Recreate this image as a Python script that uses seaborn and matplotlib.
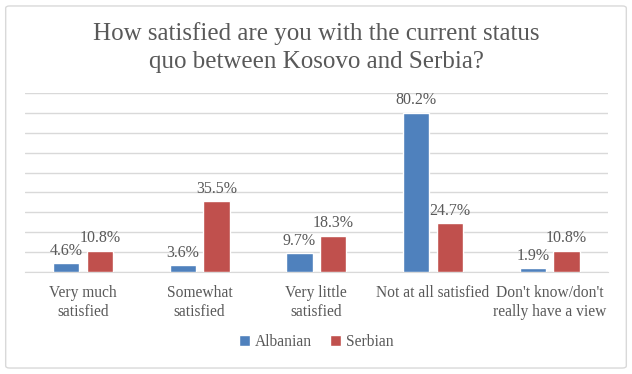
import pandas as pd
import numpy as np
import matplotlib.pyplot as plt
import seaborn as sns
from matplotlib.patches import FancyBboxPatch

# Data
categories = ['Very much\nsatisfied', 'Somewhat\nsatisfied', 'Very little\nsatisfied',
              'Not at all satisfied', "Don't know/don't\nreally have a view"]
albanian = [4.6, 3.6, 9.7, 80.2, 1.9]
serbian = [10.8, 35.5, 18.3, 24.7, 10.8]
groups = ['Albanian', 'Serbian']

df = pd.DataFrame({
    'category': categories * 2,
    'group': [groups[0]] * len(categories) + [groups[1]] * len(categories),
    'value': albanian + serbian,
})

sns.set_style('white')
plt.rcParams['font.family'] = ['Liberation Serif', 'DejaVu Serif']
text_color = '#595959'

fig = plt.figure(figsize=(6.32, 3.74), dpi=100)
ax = fig.add_axes([0.039, 0.2727, 0.923, 0.4786])

palette = {'Albanian': '#4F81BD', 'Serbian': '#C0504D'}
sns.barplot(data=df, x='category', y='value', hue='group', palette=palette,
            saturation=1, width=0.578, gap=0.22, ax=ax, legend=True, zorder=3)

for container in ax.containers:
    ax.bar_label(container, fmt='%.1f%%', padding=3, fontsize=11.5, color=text_color)

ax.set_ylim(0, 90)
ax.set_yticks(np.arange(0, 91, 10))
ax.yaxis.grid(True, color='#D9D9D9', linewidth=1)
ax.set_axisbelow(True)
ax.tick_params(axis='y', left=False, labelleft=False)
ax.tick_params(axis='x', bottom=False, labelsize=11.2, labelcolor=text_color, pad=6)
ax.set_xlabel('')
ax.set_ylabel('')
for side in ['top', 'right', 'left']:
    ax.spines[side].set_visible(False)
ax.spines['bottom'].set_color('#D9D9D9')

leg = ax.legend(loc='center', bbox_to_anchor=(0.5, -0.39), ncol=2, frameon=False,
                fontsize=11.2, handlelength=0.7, handleheight=0.7, handletextpad=0.3,
                columnspacing=1.2)
for t in leg.get_texts():
    t.set_color(text_color)

fig.text(0.5, 0.873, 'How satisfied are you with the current status\nquo between Kosovo and Serbia?',
         ha='center', va='center', fontsize=18, color=text_color, linespacing=1.3)

border = FancyBboxPatch((0.009, 0.016), 0.982, 0.968, boxstyle='round,pad=0,rounding_size=0.006',
                        transform=fig.transFigure, fill=False, edgecolor='#D9D9D9', linewidth=1)
fig.patches.append(border)

fig.savefig('out.png', dpi=100)
